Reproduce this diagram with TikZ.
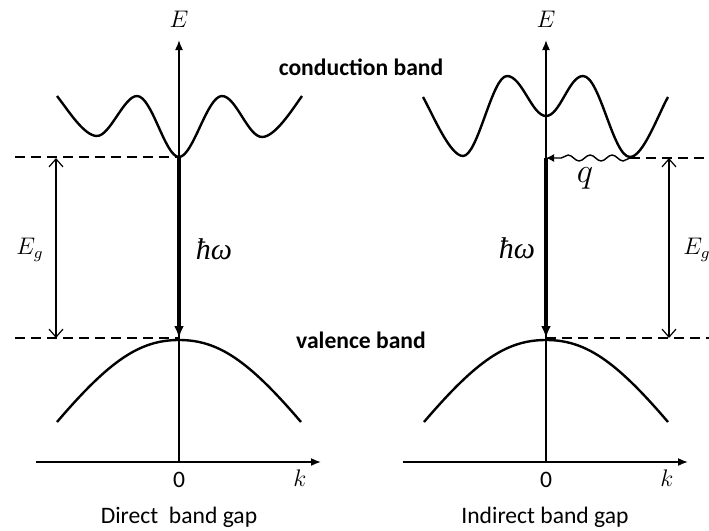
\documentclass[tikz,border=0pt]{standalone}
\usepackage{fontspec}
\setmainfont{Carlito}
\newfontfamily\symserif{Liberation Serif}
\usepackage{tikz}
\usepackage{amsmath}
\usetikzlibrary{arrows.meta, decorations.pathmorphing}

\tikzset{
  band/.style={line width=1.2pt},
  axis/.style={line width=0.8pt, -{Latex[length=5pt,width=4pt]}},
  level/.style={line width=0.9pt, dash pattern=on 5pt off 3pt},
  gaparrow/.style={line width=0.6pt, {Straight Barb[length=4pt,width=7pt]}-{Straight Barb[length=4pt,width=7pt]}},
  photon/.style={line width=2pt, -{Latex[length=6pt,width=5pt]}},
  phonon/.style={line width=0.7pt, -{Latex[length=4pt,width=4pt]}, decorate,
    decoration={snake, amplitude=1.5pt, segment length=11pt, post length=3pt}},
  txt/.style={font=\fontsize{11.8}{14}\selectfont},
  boldtxt/.style={font=\fontsize{11.8}{14}\selectfont\bfseries},
  sym/.style={font=\fontsize{12}{14}\selectfont},
  bigsym/.style={font=\fontsize{15}{18}\selectfont\symserif\itshape}
}

\begin{document}
\begin{tikzpicture}[x=0.5pt, y=-0.5pt]
  \useasboundingbox (0,0) rectangle (709,531);

  % axes, valence band and axis labels of both panels
  \foreach \cx/\p in {179/L, 546/R} {
    \coordinate (o\p) at (\cx,462);
    \coordinate (etip\p) at (\cx,40);
    \coordinate (kst\p) at (\cx-143,462);
    \coordinate (ktip\p) at (\cx+142,462);
    \draw[axis] (o\p) -- (etip\p);
    \draw[axis] (kst\p) -- (ktip\p);
    \node[sym] (E\p) at (\cx,19) {$E$};
    \node[txt] (zero\p) at (\cx,480) {0};
    \node[sym] (k\p) at (\cx+121,478) {$k$};
    % valence band
    \draw[band] (\cx-122,422) .. controls (\cx-69,360) and (\cx-39,340) .. (\cx,340)
      .. controls (\cx+39,340) and (\cx+69,360) .. (\cx+122,422);
  }

  % conduction band, direct gap
  \draw[band] (57,96) .. controls (68,110) and (84,136) .. (97,136)
    .. controls (110,136) and (124,96) .. (137,96)
    .. controls (152,96) and (165,157) .. (179,157)
    .. controls (193,157) and (207,96) .. (222,96)
    .. controls (236,96) and (248,137) .. (262,137)
    .. controls (275,137) and (292,110) .. (302,96);

  % conduction band, indirect gap
  \draw[band] (423,97) .. controls (433,115) and (450,156) .. (463,156)
    .. controls (478,156) and (492,76) .. (507,76)
    .. controls (522,76) and (532,116) .. (546,116)
    .. controls (560,116) and (569,76) .. (583,76)
    .. controls (600,76) and (613,157) .. (630,157)
    .. controls (643,157) and (658,115) .. (668,97);

  % band edges
  \coordinate (cbL) at (179,157);
  \coordinate (vbL) at (179,338);
  \coordinate (cbR) at (630,158);
  \coordinate (cbRx) at (546,158);
  \coordinate (vbR) at (546,338);
  \coordinate (dlL0) at (15,157);
  \coordinate (dlL1) at (15,338);
  \coordinate (dlR0) at (709,158);
  \coordinate (dlR1) at (709,338);
  \draw[level] (dlL0) -- (cbL);
  \draw[level] (dlL1) -- (vbL);
  \draw[level] (cbR) -- (dlR0);
  \draw[level] (vbR) -- (dlR1);

  % gap arrows
  \coordinate (gL0) at (56,158);
  \coordinate (gL1) at (56,338);
  \coordinate (gR0) at (669,158);
  \coordinate (gR1) at (669,338);
  \draw[gaparrow] (gL0) -- (gL1);
  \draw[gaparrow] (gR0) -- (gR1);
  \node[sym] (EgL) at (30,250) {$E_g$};
  \node[sym] (EgR) at (697,250) {$E_g$};

  % photon and phonon
  \draw[photon] (cbL) -- (vbL);
  \draw[photon] (cbRx) -- (vbR);
  \draw[phonon] (cbR) -- (cbRx);
  \node[bigsym] (hwL) at (214,249) {ħω};
  \node[bigsym] (hwR) at (517,248) {ħω};
  \node[font=\fontsize{16}{18}\selectfont] (q) at (585,178) {$q$};

  % band names and captions
  \node[boldtxt] (cband) at (361,67) {conduction band};
  \node[boldtxt] (vband) at (361,340) {valence band};
  \node[txt] (capL) at (179,517) {Direct\ \ band gap};
  \node[txt] (capR) at (545,517) {Indirect band gap};
\end{tikzpicture}
\end{document}
